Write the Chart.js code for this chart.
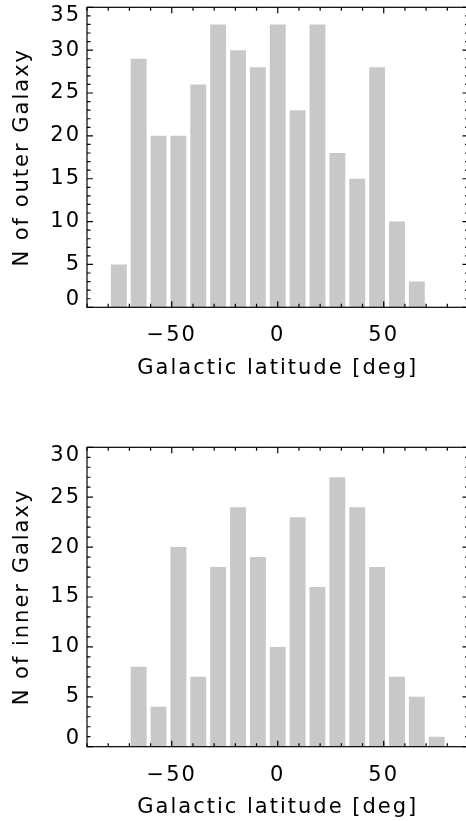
<!DOCTYPE html>
<html>
<head>
<meta charset="utf-8">
<title>Galactic latitude distributions</title>
<script src="https://cdn.jsdelivr.net/npm/chart.js@4.4.0/dist/chart.umd.min.js"></script>
<style>
  html, body { margin: 0; padding: 0; background: #fff; overflow: hidden; width: 466px; height: 821px; }
  canvas { position: absolute; left: 0; }
  #outer { top: 0; }
  #inner { top: 430px; }
</style>
</head>
<body>
<canvas id="outer" width="470" height="400"></canvas>
<canvas id="inner" width="470" height="391"></canvas>
<script>
// Histogram bin centres (deg) and counts per bin
const latitudeOuter = [-75, -65.625, -56.25, -46.875, -37.5, -28.125, -18.75, -9.375,
                       0, 9.375, 18.75, 28.125, 37.5, 46.875, 56.25, 65.625];
const outerCounts   = [5, 29, 20, 20, 26, 33, 30, 28, 33, 23, 33, 18, 15, 28, 10, 3];

const latitudeInner = [-65.625, -56.25, -46.875, -37.5, -28.125, -18.75, -9.375, 0,
                       9.375, 18.75, 28.125, 37.5, 46.875, 56.25, 65.625, 75];
const innerCounts   = [8, 4, 20, 7, 18, 24, 19, 10, 23, 16, 27, 24, 18, 7, 5, 1];

// Axis ranges and labelled ticks
const xRange = [-90, 90];
const xLabelled = [-50, 0, 50];
const outerYMax = 35;
const innerYMax = 30;

const FONT = 'DejaVu Sans';
const BAR_GREY = '#c8c8c8';

// Boxed frame with inward major/minor tick marks on all four sides
const framePlugin = {
  id: 'boxFrame',
  beforeDraw(chart) {
    chart.ctx.letterSpacing = '2px';
  },
  afterDraw(chart) {
    const { ctx, chartArea: a, scales: { x, y } } = chart;
    ctx.save();
    ctx.strokeStyle = '#000';
    ctx.lineWidth = 1.2;
    ctx.strokeRect(a.left, a.top, a.right - a.left, a.bottom - a.top);
    ctx.beginPath();
    x.ticks.forEach(t => {
      const px = x.getPixelForValue(t.value);
      const len = (t.value % 50 === 0) ? 6 : 3.5;
      ctx.moveTo(px, a.bottom); ctx.lineTo(px, a.bottom - len);
      ctx.moveTo(px, a.top);    ctx.lineTo(px, a.top + len);
    });
    y.ticks.forEach(t => {
      const py = y.getPixelForValue(t.value);
      const len = (t.value % 5 === 0) ? 6 : 3.5;
      ctx.moveTo(a.left, py);  ctx.lineTo(a.left + len, py);
      ctx.moveTo(a.right, py); ctx.lineTo(a.right - len, py);
    });
    ctx.stroke();
    ctx.restore();
  }
};

// Axes keep a fixed size and add no extra edge padding for their labels
function clearEdgePadding(s) {
  s.paddingTop = 0; s.paddingBottom = 0; s.paddingLeft = 0; s.paddingRight = 0;
}

function makeHistogram(id, centres, counts, yMax, yTitle, lay) {
  const canvas = document.getElementById(id);
  const H = canvas.height;
  return new Chart(canvas, {
    type: 'bar',
    data: {
      datasets: [{
        data: centres.map((c, i) => ({ x: c, y: counts[i] })),
        backgroundColor: BAR_GREY,
        borderWidth: 0,
        barPercentage: 0.8,
        categoryPercentage: 1
      }]
    },
    options: {
      responsive: false,
      animation: false,
      devicePixelRatio: 1,
      layout: { padding: { top: lay.top, right: 1.5, left: 0, bottom: 0 } },
      plugins: { legend: { display: false }, tooltip: { enabled: false } },
      scales: {
        x: {
          type: 'linear',
          min: xRange[0], max: xRange[1],
          offset: false,
          grid: { display: false, drawTicks: false },
          border: { display: false },
          ticks: {
            stepSize: 10, autoSkip: false, maxRotation: 0, padding: 16,
            color: '#000', font: { family: FONT, size: 21 },
            callback: v => xLabelled.includes(v) ? String(v).replace('-', '\u2212') : ''
          },
          title: {
            display: true, text: 'Galactic latitude [deg]', color: '#000',
            font: { family: FONT, size: 21 }, padding: { top: 0, bottom: lay.xTitle }
          },
          afterFit: s => { s.height = H - lay.bottom; clearEdgePadding(s); }
        },
        y: {
          min: 0, max: yMax,
          grid: { display: false, drawTicks: false },
          border: { display: false },
          ticks: {
            stepSize: 1, autoSkip: false, padding: 6,
            color: '#000', font: { family: FONT, size: 21, lineHeight: 0.75 },
            callback: v => v === 0 ? ['0', ''] : v === yMax ? ['', String(v)] : (v % 5 === 0 ? String(v) : '')
          },
          title: {
            display: true, text: yTitle, color: '#000',
            font: { family: FONT, size: 21 }, padding: { top: 9.5, bottom: 0 }
          },
          afterFit: s => { s.width = 87; clearEdgePadding(s); }
        }
      }
    },
    plugins: [framePlugin]
  });
}

makeHistogram('outer', latitudeOuter, outerCounts, outerYMax, 'N of outer Galaxy',
              { top: 7.3, bottom: 307.3, xTitle: 19 });
makeHistogram('inner', latitudeInner, innerCounts, innerYMax, 'N of inner Galaxy',
              { top: 17.3, bottom: 316.7, xTitle: 1 });
</script>
</body>
</html>
